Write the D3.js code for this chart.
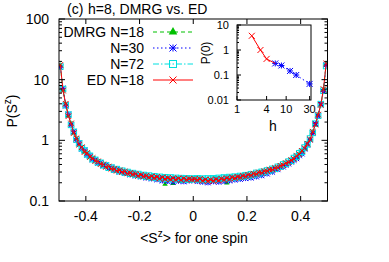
<!DOCTYPE html>
<html><head><meta charset="utf-8">
<script src="https://cdn.jsdelivr.net/npm/d3@7"></script>
<style>
body{margin:0;background:#fff;}
svg{display:block;font-family:"Liberation Sans",Arial,Helvetica,sans-serif;}
</style></head>
<body><svg id="c" width="389" height="262"></svg>
<script>
// ---- data ----
const sz = [-0.495,-0.485,-0.475,-0.465,-0.455,-0.445,-0.435,-0.425,-0.415,-0.405,-0.395,-0.385,-0.375,-0.365,-0.355,-0.345,-0.335,-0.325,-0.315,-0.305,-0.295,-0.285,-0.275,-0.265,-0.255,-0.245,-0.235,-0.225,-0.215,-0.205,-0.195,-0.185,-0.175,-0.165,-0.155,-0.145,-0.135,-0.125,-0.115,-0.105,-0.095,-0.085,-0.075,-0.065,-0.055,-0.045,-0.035,-0.025,-0.015,-0.005,
 0.005,0.015,0.025,0.035,0.045,0.055,0.065,0.075,0.085,0.095,0.105,0.115,0.125,0.135,0.145,0.155,0.165,0.175,0.185,0.195,0.205,0.215,0.225,0.235,0.245,0.255,0.265,0.275,0.285,0.295,0.305,0.315,0.325,0.335,0.345,0.355,0.365,0.375,0.385,0.395,0.405,0.415,0.425,0.435,0.445,0.455,0.465,0.475,0.485,0.495];

const dmrg18 = [17.2,6.7,3.95,2.55,1.88,1.33,1.06,0.86,0.76,0.65,0.61,0.535,0.505,0.46,0.445,0.41,0.395,0.37,0.365,0.345,0.335,0.32,0.315,0.305,0.3,0.29,0.285,0.278,0.275,0.265,0.265,0.258,0.255,0.248,0.25,0.243,0.245,0.238,0.24,0.19,0.236,0.23,0.195,0.228,0.232,0.21,0.233,0.226,0.23,0.227,
 0.229,0.224,0.231,0.218,0.227,0.215,0.226,0.216,0.229,0.22,0.231,0.224,0.198,0.232,0.243,0.238,0.248,0.245,0.256,0.252,0.266,0.262,0.278,0.276,0.29,0.29,0.305,0.31,0.325,0.33,0.345,0.355,0.375,0.39,0.415,0.435,0.465,0.495,0.545,0.595,0.665,0.745,0.875,1.04,1.36,1.84,2.62,3.88,6.9,18];

const dmrg30 = [16,7.2,3.7,2.7,1.78,1.4,1.0,0.9,0.72,0.69,0.57,0.56,0.48,0.48,0.42,0.43,0.38,0.39,0.345,0.36,0.32,0.335,0.30,0.31,0.285,0.295,0.27,0.285,0.26,0.27,0.25,0.262,0.24,0.255,0.232,0.25,0.225,0.245,0.215,0.24,0.21,0.235,0.205,0.232,0.212,0.23,0.208,0.228,0.214,0.226,
 0.222,0.21,0.228,0.205,0.225,0.2,0.222,0.208,0.226,0.205,0.23,0.21,0.235,0.215,0.24,0.222,0.245,0.228,0.25,0.235,0.258,0.24,0.266,0.25,0.28,0.262,0.295,0.28,0.315,0.3,0.335,0.33,0.36,0.365,0.39,0.41,0.44,0.47,0.5,0.56,0.6,0.72,0.84,1.02,1.3,1.9,2.5,4.0,6.4,17.5];

const dmrg72 = [16.5,7.0,3.8,2.65,1.8,1.38,1.03,0.89,0.74,0.68,0.59,0.555,0.49,0.475,0.435,0.425,0.39,0.385,0.355,0.355,0.33,0.335,0.31,0.315,0.295,0.3,0.282,0.288,0.27,0.278,0.26,0.268,0.252,0.262,0.245,0.255,0.24,0.25,0.236,0.246,0.232,0.244,0.23,0.24,0.228,0.238,0.226,0.236,0.225,0.235,
 0.228,0.236,0.224,0.234,0.222,0.235,0.225,0.236,0.228,0.24,0.232,0.244,0.236,0.248,0.24,0.252,0.246,0.258,0.252,0.266,0.26,0.276,0.27,0.29,0.285,0.302,0.3,0.318,0.32,0.338,0.34,0.365,0.37,0.4,0.41,0.445,0.46,0.51,0.54,0.61,0.65,0.76,0.86,1.07,1.33,1.88,2.55,3.95,6.6,16.8];

const ed18 = [17.5,6.6,4.0,2.5,1.9,1.32,1.08,0.85,0.77,0.64,0.62,0.53,0.51,0.455,0.45,0.405,0.40,0.365,0.37,0.34,0.34,0.315,0.32,0.30,0.305,0.285,0.29,0.275,0.28,0.26,0.27,0.255,0.26,0.245,0.255,0.24,0.25,0.235,0.245,0.23,0.24,0.228,0.238,0.225,0.235,0.222,0.236,0.224,0.232,0.226,
 0.23,0.222,0.232,0.215,0.226,0.212,0.224,0.215,0.228,0.218,0.232,0.225,0.238,0.23,0.245,0.238,0.25,0.245,0.26,0.255,0.27,0.265,0.282,0.278,0.295,0.292,0.31,0.31,0.33,0.33,0.35,0.355,0.38,0.39,0.42,0.435,0.47,0.495,0.55,0.59,0.67,0.74,0.88,1.03,1.38,1.82,2.65,3.85,7.0,18.5];

// inset: P(0) vs h
const insetEdH = [2,3,4,6];
const insetEdP = [3.7,1.0,0.44,0.29];
const insetDmrgH = [6,8,12,16,30];
const insetDmrgP = [0.29,0.24,0.145,0.1,0.044];

const xTicks = [-0.4,-0.2,0,0.2,0.4];
const yTicks = [0.1,1,10,100];
const insetXTicks = [1,4,10,30];
const insetYTicks = [0.01,0.1,1,10];

// ---- drawing ----
const svg = d3.select("#c");
const L=59, R=327.5, T=19, B=201;
const x = d3.scaleLinear([-0.5,0.5],[L,R]);
const y = d3.scaleLog([0.1,100],[B,T]);

const series = [
  {name:"DMRG N=18", vals:dmrg18, color:"#00c000", dash:"4,3", mk:"tri", ms:2.2},
  {name:"N=30", vals:dmrg30, color:"#0000ff", dash:"1.5,2.5", mk:"star", ms:2.6},
  {name:"N=72", vals:dmrg72, color:"#00e0e0", dash:"6,2,1.5,2", mk:"sq", ms:2.8},
  {name:"ED N=18", vals:ed18, color:"#ff0000", dash:null, mk:"x", ms:2.8}
];

function marker(g, type, cx, cy, color, s){
  s = s||3;
  if(type==="tri"){
    g.append("path").attr("d",d3.symbol(d3.symbolTriangle, s*s*2.6)())
     .attr("transform",`translate(${cx},${cy})`).attr("fill",color);
  } else if(type==="sq"){
    g.append("rect").attr("x",cx-s).attr("y",cy-s).attr("width",2*s).attr("height",2*s)
     .attr("fill","none").attr("stroke",color).attr("stroke-width",1);
  } else if(type==="x"){
    g.append("path").attr("d",`M${cx-s},${cy-s}L${cx+s},${cy+s}M${cx-s},${cy+s}L${cx+s},${cy-s}`)
     .attr("stroke",color).attr("stroke-width",1).attr("fill","none");
  } else if(type==="star"){
    g.append("path").attr("d",`M${cx-s},${cy-s}L${cx+s},${cy+s}M${cx-s},${cy+s}L${cx+s},${cy-s}M${cx-s},${cy}L${cx+s},${cy}M${cx},${cy-s}L${cx},${cy+s}`)
     .attr("stroke",color).attr("stroke-width",1).attr("fill","none");
  }
}

svg.append("defs").append("clipPath").attr("id","pc").append("rect")
  .attr("x",L).attr("y",T).attr("width",R-L).attr("height",B-T);

const data = svg.append("g").attr("clip-path","url(#pc)");
series.forEach(sr=>{
  const pts = sz.map((s,i)=>[s,sr.vals[i]]);
  const line = d3.line().x(d=>x(d[0])).y(d=>y(d[1]));
  data.append("path").attr("d",line(pts)).attr("fill","none")
    .attr("stroke",sr.color).attr("stroke-width",1)
    .attr("stroke-dasharray",sr.dash);
  const mg = data.append("g");
  pts.forEach(p=>marker(mg, sr.mk, x(p[0]), y(p[1]), sr.color, sr.ms));
});

// frame
svg.append("rect").attr("x",L).attr("y",T).attr("width",R-L).attr("height",B-T)
  .attr("fill","none").attr("stroke","#000").attr("stroke-width",1);

const ax = svg.append("g").attr("stroke","#000").attr("stroke-width",1);
xTicks.forEach(t=>{
  ax.append("line").attr("x1",x(t)).attr("x2",x(t)).attr("y1",B).attr("y2",B-5);
  ax.append("line").attr("x1",x(t)).attr("x2",x(t)).attr("y1",T).attr("y2",T+5);
});
const yMinor = [];
for(let d=0.1; d<100; d*=10){ for(let k=2;k<=9;k++) yMinor.push(d*k); }
yTicks.forEach(t=>{
  ax.append("line").attr("x1",L).attr("x2",L+6).attr("y1",y(t)).attr("y2",y(t));
  ax.append("line").attr("x1",R).attr("x2",R-6).attr("y1",y(t)).attr("y2",y(t));
});
yMinor.forEach(t=>{
  ax.append("line").attr("x1",L).attr("x2",L+3).attr("y1",y(t)).attr("y2",y(t));
  ax.append("line").attr("x1",R).attr("x2",R-3).attr("y1",y(t)).attr("y2",y(t));
});

const fmt = t=> t<0 ? "-"+String(-t) : String(t);
svg.append("g").selectAll("text").data(xTicks).join("text")
  .attr("x",d=>x(d)).attr("y",221).attr("text-anchor","middle")
  .attr("font-size",14).text(fmt);
svg.append("g").selectAll("text").data(yTicks).join("text")
  .attr("x",49).attr("y",d=>y(d)+5).attr("text-anchor","end")
  .attr("font-size",14).text(d=>String(d));

// axis labels
const xl = svg.append("text").attr("x",194).attr("y",243).attr("text-anchor","middle").attr("font-size",14);
xl.append("tspan").text("<S");
xl.append("tspan").attr("dy",-6).attr("font-size",10).text("z");
xl.append("tspan").attr("dy",6).text("> for one spin");
const yl = svg.append("text").attr("transform","translate(17,111) rotate(-90)").attr("text-anchor","middle").attr("font-size",14);
yl.append("tspan").text("P(S");
yl.append("tspan").attr("dy",-6).attr("font-size",10).text("z");
yl.append("tspan").attr("dy",6).text(")");

// title
svg.append("text").attr("x",67).attr("y",14).attr("font-size",14).text("(c)");
svg.append("text").attr("x",88).attr("y",14).attr("font-size",14).text("h=8, DMRG vs. ED");

// legend
const lg = svg.append("g");
series.forEach((sr,i)=>{
  const cy = 32 + i*16;
  lg.append("text").attr("x",144).attr("y",cy+5).attr("text-anchor","end").attr("font-size",14).text(sr.name);
  lg.append("line").attr("x1",153).attr("x2",193).attr("y1",cy).attr("y2",cy)
    .attr("stroke",sr.color).attr("stroke-width",1).attr("stroke-dasharray",sr.dash);
  marker(lg, sr.mk, 173, cy, sr.color, 3.5);
});

// inset
const iL=237, iR=311, iT=25, iB=100;
const ix = d3.scaleLog([1,32],[iL,iR]);
const iy = d3.scaleLog([0.01,10],[iB,iT]);
svg.append("rect").attr("x",iL).attr("y",iT).attr("width",iR-iL).attr("height",iB-iT)
  .attr("fill","#fff").attr("stroke","#000").attr("stroke-width",1);
const ig = svg.append("g");
const iline = d3.line().x(d=>ix(d[0])).y(d=>iy(d[1]));
const edPts = insetEdH.map((h,i)=>[h,insetEdP[i]]);
const dmPts = insetDmrgH.map((h,i)=>[h,insetDmrgP[i]]);
ig.append("path").attr("d",iline(dmPts)).attr("fill","none").attr("stroke","#0000ff").attr("stroke-dasharray","1.5,2.5");
dmPts.forEach(p=>marker(ig,"star",ix(p[0]),iy(p[1]),"#0000ff",3));
ig.append("path").attr("d",iline(edPts)).attr("fill","none").attr("stroke","#ff0000");
edPts.slice(0,3).forEach(p=>marker(ig,"x",ix(p[0]),iy(p[1]),"#ff0000",3));

const iax = svg.append("g").attr("stroke","#000").attr("stroke-width",1);
insetXTicks.forEach(t=>{
  iax.append("line").attr("x1",ix(t)).attr("x2",ix(t)).attr("y1",iB).attr("y2",iB-4);
});
insetYTicks.forEach(t=>{
  iax.append("line").attr("x1",iL).attr("x2",iL+4).attr("y1",iy(t)).attr("y2",iy(t));
});
for(let d=0.01; d<10; d*=10){ for(let k=2;k<=9;k++){
  iax.append("line").attr("x1",iL).attr("x2",iL+2).attr("y1",iy(d*k)).attr("y2",iy(d*k));
}}
svg.append("g").selectAll("text").data(insetXTicks).join("text")
  .attr("x",d=>ix(d)).attr("y",113).attr("text-anchor","middle").attr("font-size",11).text(d=>String(d));
svg.append("g").selectAll("text").data(insetYTicks).join("text")
  .attr("x",229).attr("y",d=>iy(d)+4).attr("text-anchor","end").attr("font-size",11).text(d=>String(d));
svg.append("text").attr("x",273).attr("y",131).attr("text-anchor","middle").attr("font-size",14).text("h");
svg.append("text").attr("transform","translate(210,53) rotate(-90)").attr("text-anchor","middle").attr("font-size",12).text("P(0)");
</script></body></html>
